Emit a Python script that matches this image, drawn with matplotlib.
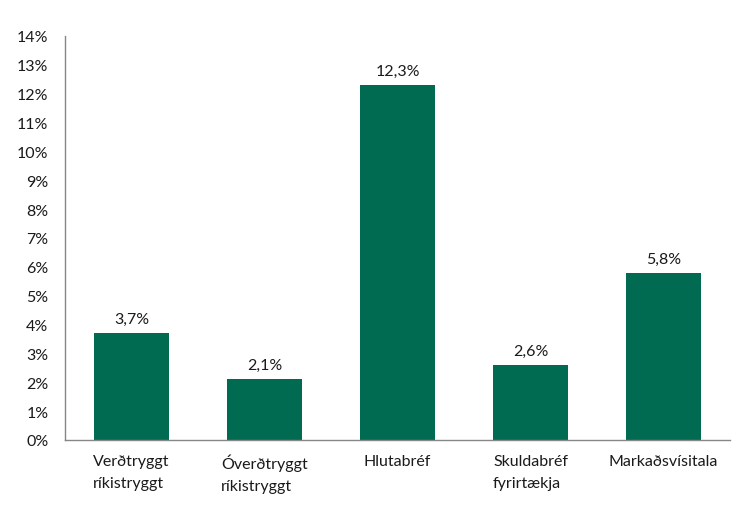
import matplotlib.pyplot as plt
from matplotlib.ticker import FuncFormatter

categories = ['Verðtryggt\nríkistryggt', 'Óverðtryggt\nríkistryggt', 'Hlutabréf',
              'Skuldabréf\nfyrirtækja', 'Markaðsvísitala']
values = [3.7, 2.1, 12.3, 2.6, 5.8]
yticks = list(range(0, 15))

plt.rcParams['font.family'] = ['Lato', 'DejaVu Sans']

fig = plt.figure(figsize=(7.44, 5.06), dpi=100)
ax = fig.add_axes([65/744, 1-441/506, 665/744, 404/506])
x = list(range(len(values)))
bars = ax.bar(x, values, width=0.57, color='#006b50')
for xi, v in zip(x, values):
    ax.text(xi, v + 0.25, '{:.1f}%'.format(v).replace('.', ','),
            ha='center', va='bottom', fontsize=11.5, color='#1a1a1a')

ax.set_xlim(-0.5, len(values) - 0.5)
ax.set_ylim(0, 14)
ax.set_yticks(yticks)
ax.yaxis.set_major_formatter(FuncFormatter(lambda v, p: '%d%%' % v))
ax.set_xticks(x)
ax.set_xticklabels(categories, multialignment='left', linespacing=1.7)
ax.tick_params(axis='both', length=0, labelsize=11.5, colors='#1a1a1a')
ax.tick_params(axis='y', pad=12)
ax.tick_params(axis='x', pad=10)
for s in ['top', 'right']:
    ax.spines[s].set_visible(False)
for s in ['left', 'bottom']:
    ax.spines[s].set_color('#868686')
    ax.spines[s].set_linewidth(1)

fig.savefig('out.png', dpi=100, facecolor='white')
